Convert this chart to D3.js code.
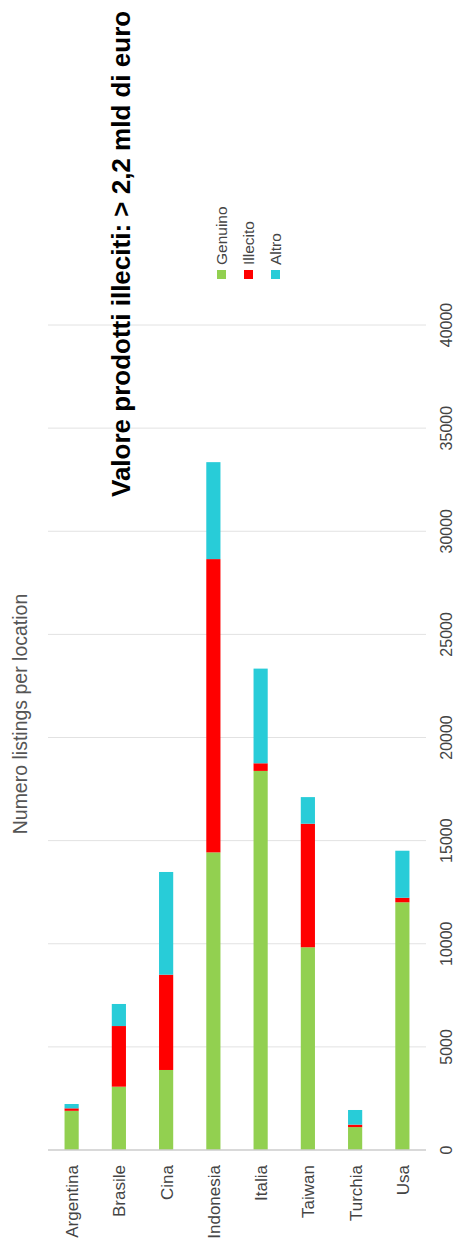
<!DOCTYPE html>
<html>
<head>
<meta charset="utf-8">
<script src="https://cdn.jsdelivr.net/npm/d3@7"></script>
<style>
  html, body { margin: 0; padding: 0; background: #fff; }
  svg { display: block; }
  text { font-family: "Liberation Sans", Arial, sans-serif; }
</style>
</head>
<body>
<svg id="chart" width="454" height="1244"></svg>
<script>
// Listings per location, split by kind
const categories = ["Argentina", "Brasile", "Cina", "Indonesia", "Italia", "Taiwan", "Turchia", "Usa"];
const seriesNames = ["Genuino", "Illecito", "Altro"];
const genuino  = [1900, 3070, 3880, 14430, 18380, 9830, 1110, 12010];
const illecito = [ 120, 2940, 4620, 14220,   370, 5990,  120,   220];
const altro    = [ 210, 1070, 4980,  4700,  4590, 1290,  710,  2280];
const tickValues = [0, 5000, 10000, 15000, 20000, 25000, 30000, 35000, 40000];
const colors = ["#92d050", "#ff0000", "#28ccd8"];
const title = "Valore prodotti illeciti: > 2,2 mld di euro";
const axisTitle = "Numero listings per location";

const svg = d3.select("#chart");

// The chart is drawn turned a quarter turn: values grow upward, categories run left to right,
// and every label reads from bottom to top.
const x = d3.scaleBand().domain(categories).range([48, 426]).paddingInner(0.7).paddingOuter(0.35);
const y = d3.scaleLinear().domain([0, 40000]).range([1150, 325]);
const color = d3.scaleOrdinal().domain(seriesNames).range(colors);

// gridlines
svg.append("g").selectAll("line")
  .data(tickValues.filter(d => d > 0))
  .join("line")
  .attr("x1", 48).attr("x2", 426)
  .attr("y1", d => y(d)).attr("y2", d => y(d))
  .attr("stroke", "#e2e2e2").attr("stroke-width", 1);

// stacked bars
const rows = categories.map((c, i) => ({ cat: c, Genuino: genuino[i], Illecito: illecito[i], Altro: altro[i] }));
const stacked = d3.stack().keys(seriesNames)(rows);
svg.append("g").selectAll("g")
  .data(stacked)
  .join("g")
  .attr("fill", d => color(d.key))
  .selectAll("rect")
  .data(d => d)
  .join("rect")
  .attr("x", d => x(d.data.cat))
  .attr("width", x.bandwidth())
  .attr("y", d => y(d[1]))
  .attr("height", d => y(d[0]) - y(d[1]));

// baseline
svg.append("line")
  .attr("x1", 48).attr("x2", 426)
  .attr("y1", y(0)).attr("y2", y(0))
  .attr("stroke", "#cccccc").attr("stroke-width", 1.5);

// value tick labels
svg.append("g").selectAll("text")
  .data(tickValues)
  .join("text")
  .attr("transform", d => `translate(452,${y(d)}) rotate(-90)`)
  .attr("text-anchor", "middle")
  .attr("font-size", 16)
  .attr("fill", "#444")
  .text(d => d);

// category labels
svg.append("g").selectAll("text")
  .data(categories)
  .join("text")
  .attr("transform", d => `translate(${x(d) + x.bandwidth() / 2 + 6.5},1165) rotate(-90)`)
  .attr("text-anchor", "end")
  .attr("font-size", 17)
  .attr("fill", "#444")
  .text(d => d);

// axis title
svg.append("text")
  .attr("transform", "translate(26.5,714) rotate(-90)")
  .attr("text-anchor", "middle")
  .attr("font-size", 19.5)
  .attr("fill", "#555")
  .text(axisTitle);

// legend
const legend = svg.append("g").selectAll("g")
  .data(seriesNames)
  .join("g")
  .attr("transform", (d, i) => `translate(${217 + i * 27},0)`);
legend.append("rect")
  .attr("x", 0).attr("y", 270).attr("width", 9).attr("height", 9)
  .attr("fill", d => color(d));
legend.append("text")
  .attr("transform", "translate(9.5,265) rotate(-90)")
  .attr("text-anchor", "start")
  .attr("font-size", 15.5)
  .attr("fill", "#444")
  .text(d => d);

// headline
svg.append("text")
  .attr("transform", "translate(129.5,497) rotate(-90)")
  .attr("text-anchor", "start")
  .attr("font-size", 26)
  .attr("font-weight", "bold")
  .attr("fill", "#000")
  .text(title);
</script>
</body>
</html>
